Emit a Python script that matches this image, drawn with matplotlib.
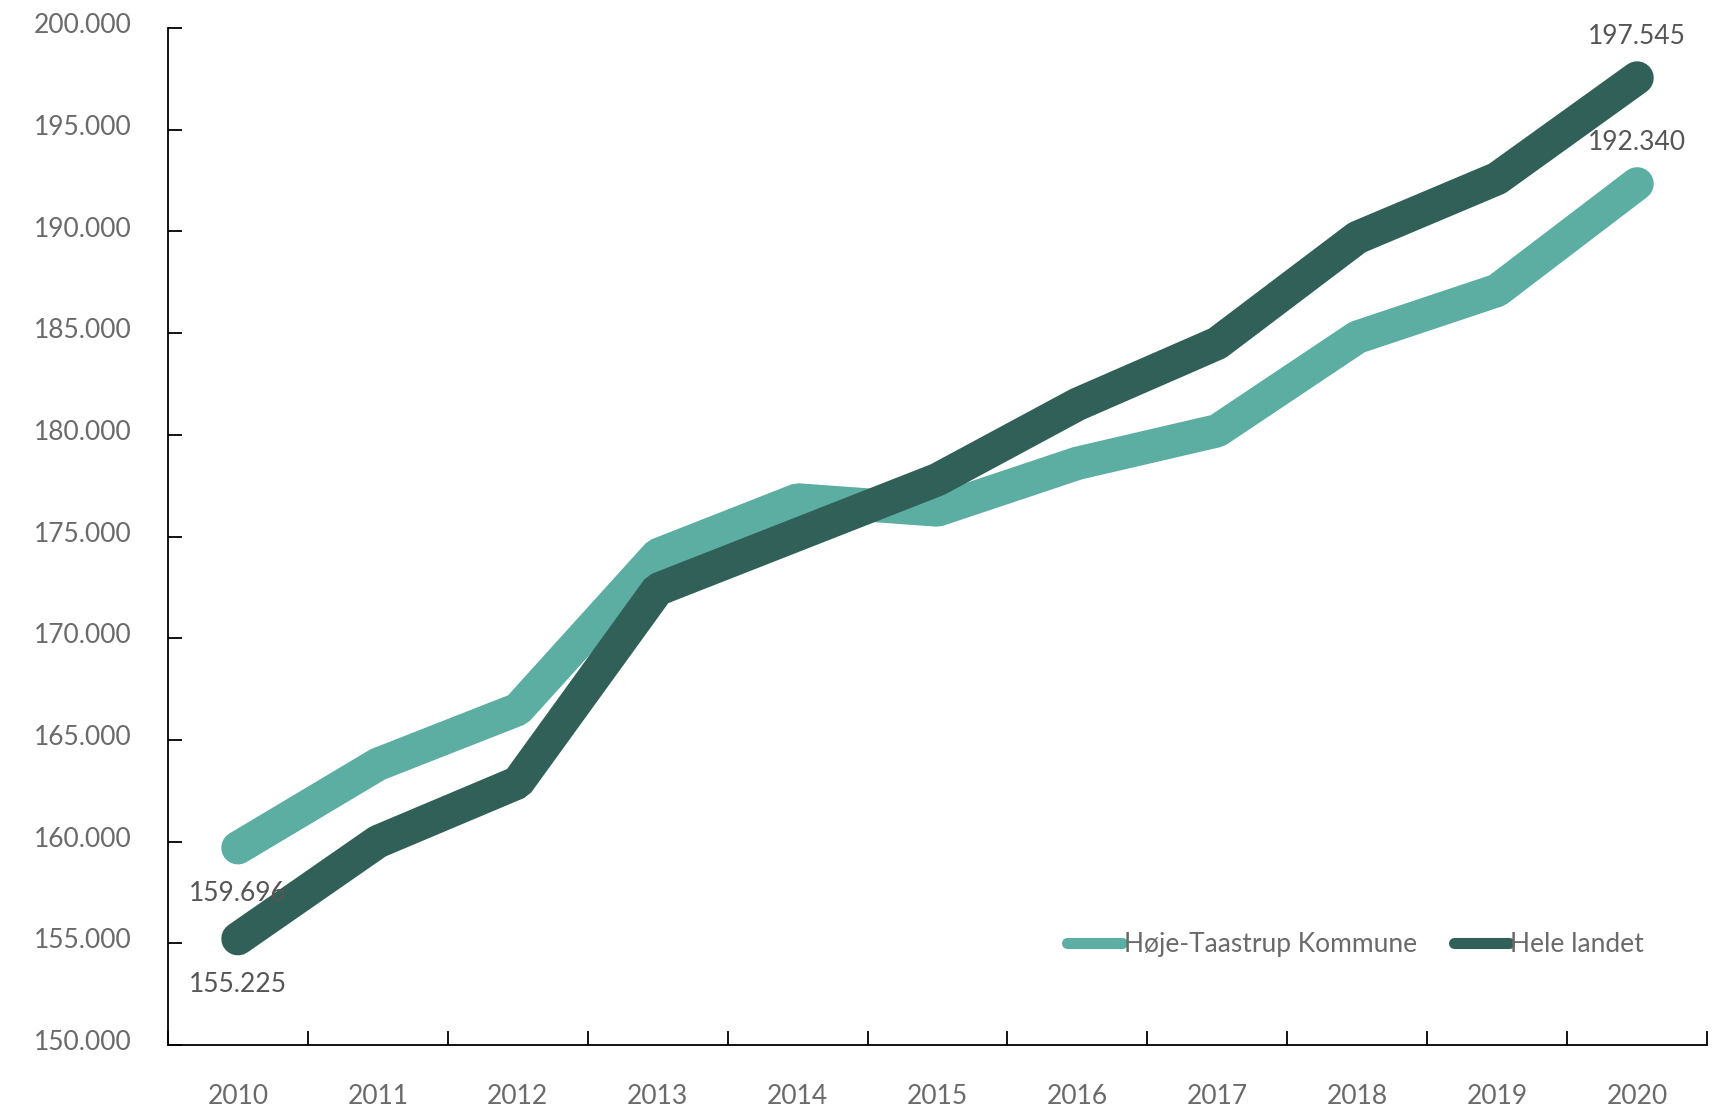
import matplotlib
matplotlib.use("Agg")
import matplotlib.pyplot as plt
import matplotlib.transforms as mtransforms
from matplotlib.ticker import FuncFormatter, FixedLocator

# Data
years = ["2010", "2011", "2012", "2013", "2014", "2015", "2016", "2017", "2018", "2019", "2020"]
hoeje_taastrup = [159696, 163800, 166500, 174100, 176800, 176300, 178600, 180200, 184800, 187100, 192340]
hele_landet = [155225, 160000, 162900, 172400, 175100, 177800, 181500, 184500, 189700, 192600, 197545]

teal = "#5BAEA1"
dark = "#316059"
grey = "#6a6a6a"

plt.rcParams['font.family'] = ['Lato', 'DejaVu Sans']

fig = plt.figure(figsize=(17.21, 11.07), dpi=100)
ax = fig.add_axes([0.0976, 0.056, 0.8943, 0.9187])

x = list(range(len(years)))
ax.plot(x, hoeje_taastrup, color=teal, lw=24, solid_capstyle='round',
        solid_joinstyle='bevel', label='Høje-Taastrup Kommune')
ax.plot(x, hele_landet, color=dark, lw=24, solid_capstyle='round',
        solid_joinstyle='bevel', label='Hele landet')

ax.set_xlim(-0.5, len(years) - 0.5)
ax.set_ylim(150000, 200000)

# thousands separated with a period
fmt = FuncFormatter(lambda v, p: f"{int(v):,}".replace(",", "."))
ax.yaxis.set_major_formatter(fmt)
ax.set_yticks(range(150000, 200001, 5000))

ax.set_xticks(x)
ax.set_xticklabels(years)
ax.xaxis.set_minor_locator(FixedLocator([i - 0.5 for i in range(len(years) + 1)]))

ax.tick_params(axis='x', which='major', length=0, pad=28, labelsize=19, labelcolor=grey)
ax.tick_params(axis='x', which='minor', direction='in', length=10, width=1.3, color='black')
ax.tick_params(axis='y', direction='in', length=10, width=1.3, pad=26, labelsize=19, labelcolor=grey)

# y labels sit a little above their ticks in the original
shift = mtransforms.ScaledTranslation(0, 3.5 / 72, fig.dpi_scale_trans)
for lbl in ax.get_yticklabels():
    lbl.set_transform(lbl.get_transform() + shift)

for s in ['top', 'right']:
    ax.spines[s].set_visible(False)
for s in ['left', 'bottom']:
    ax.spines[s].set_linewidth(1.3)

# end labels
def lab(xi, yi, dy):
    ax.annotate(f"{yi:,}".replace(",", "."), (xi, yi), xytext=(0, dy),
                textcoords='offset points', ha='center', va='center',
                fontsize=19, color='#555555')

lab(0, hoeje_taastrup[0], -33)
lab(0, hele_landet[0], -33)
lab(10, hoeje_taastrup[-1], 30)
lab(10, hele_landet[-1], 30)

leg = ax.legend(loc='center left', bbox_to_anchor=(0.584, 0.099), ncol=2, frameon=False,
                borderaxespad=0, borderpad=0, handlelength=2.1, handletextpad=0.05,
                columnspacing=1.4, fontsize=19)
for h in leg.get_lines():
    h.set_linewidth(8)
    h.set_solid_capstyle('round')
for t in leg.get_texts():
    t.set_color(grey)

fig.savefig("out.png", dpi=100)
